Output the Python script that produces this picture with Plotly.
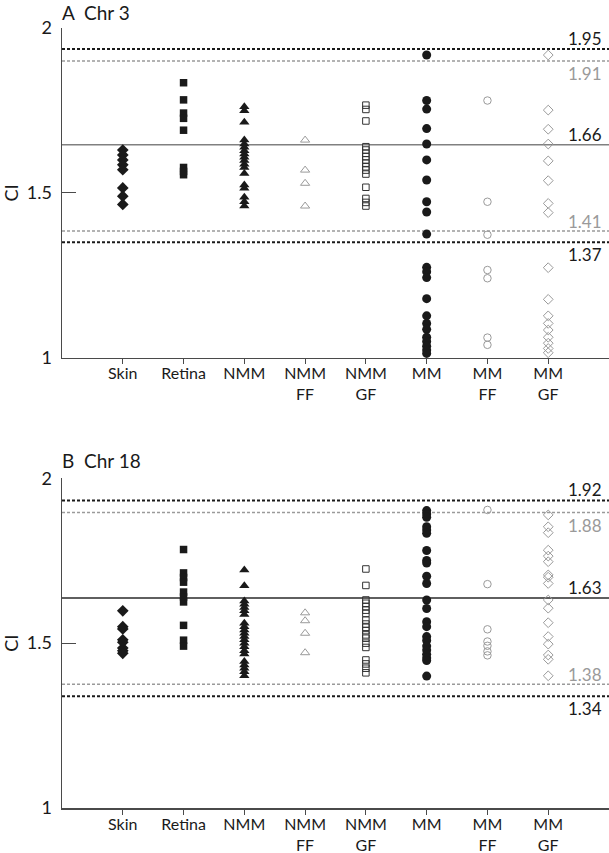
import plotly.graph_objects as go

# ---------------- data ----------------
categories = ["Skin", "Retina", "NMM", "NMM<br>FF", "NMM<br>GF", "MM", "MM<br>FF", "MM<br>GF"]

# Panel A: Chr 3
skin_a = [1.63, 1.615, 1.60, 1.585, 1.57, 1.515, 1.49, 1.465]
retina_a = [1.834, 1.782, 1.742, 1.726, 1.69, 1.577, 1.565, 1.555]
nmm_a = [1.761, 1.749, 1.714, 1.66, 1.648, 1.638, 1.628, 1.618, 1.608, 1.598,
         1.587, 1.577, 1.559, 1.524, 1.514, 1.487, 1.473, 1.46]
nmmff_a = [1.66, 1.569, 1.529, 1.46]
nmmgf_a = [1.766, 1.753, 1.718, 1.64, 1.63, 1.62, 1.61, 1.60, 1.59, 1.579,
           1.569, 1.557, 1.517, 1.483, 1.471, 1.46]
mm_a = [1.918, 1.78, 1.754, 1.695, 1.648, 1.60, 1.539, 1.473, 1.442, 1.375,
        1.274, 1.261, 1.243, 1.179, 1.127, 1.104, 1.086, 1.062, 1.049, 1.035,
        1.023, 1.013]
mmff_a = [1.78, 1.473, 1.373, 1.266, 1.241, 1.061, 1.039]
mmgf_a = [1.918, 1.751, 1.693, 1.648, 1.597, 1.537, 1.468, 1.44, 1.273, 1.177,
          1.127, 1.104, 1.084, 1.062, 1.044, 1.028, 1.015]
ref_lines_a = [1.936, 1.90, 1.646, 1.384, 1.35]
ref_labels_a = ["1.95", "1.91", "1.66", "1.41", "1.37"]

# Panel B: Chr 18
skin_b = [1.598, 1.55, 1.543, 1.51, 1.503, 1.485, 1.477, 1.469]
retina_b = [1.784, 1.713, 1.699, 1.685, 1.655, 1.64, 1.625, 1.554, 1.509, 1.491]
nmm_b = [1.722, 1.674, 1.628, 1.618, 1.608, 1.598, 1.587, 1.56, 1.55, 1.54,
         1.53, 1.52, 1.51, 1.50, 1.489, 1.477, 1.467, 1.444, 1.434, 1.424,
         1.413, 1.401]
nmmff_b = [1.592, 1.568, 1.53, 1.471]
nmmgf_b = [1.725, 1.675, 1.631, 1.621, 1.611, 1.60, 1.59, 1.57, 1.558, 1.548,
           1.538, 1.525, 1.515, 1.50, 1.487, 1.449, 1.437, 1.424, 1.41]
mm_b = [1.902, 1.892, 1.882, 1.853, 1.843, 1.833, 1.781, 1.751, 1.743, 1.703,
        1.681, 1.631, 1.605, 1.565, 1.55, 1.52, 1.508, 1.491, 1.479, 1.466,
        1.455, 1.447, 1.40]
mmff_b = [1.904, 1.679, 1.542, 1.505, 1.492, 1.475, 1.463]
mmgf_b = [1.889, 1.853, 1.835, 1.782, 1.764, 1.747, 1.707, 1.70, 1.681, 1.631,
          1.606, 1.562, 1.52, 1.497, 1.464, 1.451, 1.401]
ref_lines_b = [1.933, 1.896, 1.637, 1.375, 1.339]
ref_labels_b = ["1.92", "1.88", "1.63", "1.38", "1.34"]

panel_titles = ["A  Chr 3", "B  Chr 18"]
ytick_vals = [1, 1.5, 2]
ytick_text = ["1", "1.5", "2"]

# ---------------- styles ----------------
FONT = "Lato, 'Open Sans', sans-serif"
BLACK = "#1a1a1a"
GRAY = "#9a9a9a"
AXIS = "#4a4a4a"

styles = [
    dict(symbol="diamond", size=9, color=BLACK, line=dict(width=0)),
    dict(symbol="square", size=7.5, color=BLACK, line=dict(width=0)),
    dict(symbol="triangle-up", size=9, color=BLACK, line=dict(width=0)),
    dict(symbol="triangle-up-open", size=8, color=GRAY, line=dict(width=1, color=GRAY)),
    dict(symbol="square-open", size=6.5, color="#333333", line=dict(width=1, color="#333333")),
    dict(symbol="circle", size=9, color=BLACK, line=dict(width=0)),
    dict(symbol="circle-open", size=7.5, color=GRAY, line=dict(width=1, color=GRAY)),
    dict(symbol="diamond-open", size=7.5, color=GRAY, line=dict(width=1, color=GRAY)),
]

series_a = [skin_a, retina_a, nmm_a, nmmff_a, nmmgf_a, mm_a, mmff_a, mmgf_a]
series_b = [skin_b, retina_b, nmm_b, nmmff_b, nmmgf_b, mm_b, mmff_b, mmgf_b]

fig = go.Figure()

W, H = 609, 853
x_dom = [62 / W, 1.0]
y_dom_a = [(H - 357.7) / H, (H - 28) / H]
y_dom_b = [(H - 808) / H, (H - 478.3) / H]

for p, series in enumerate([series_a, series_b]):
    xa = "x" if p == 0 else "x2"
    ya = "y" if p == 0 else "y2"
    for i, vals in enumerate(series):
        fig.add_trace(go.Scatter(
            x=[i + 1] * len(vals), y=vals, mode="markers",
            marker=styles[i], xaxis=xa, yaxis=ya, showlegend=False,
            hoverinfo="skip", cliponaxis=False))

# reference lines + labels
line_styles = [
    dict(color=BLACK, width=2, dash="3px,2px"),
    dict(color=GRAY, width=1.5, dash="3px,2px"),
    None,
    dict(color=GRAY, width=1.5, dash="3px,2px"),
    dict(color=BLACK, width=2, dash="3px,2px"),
]
label_colors = [BLACK, GRAY, BLACK, GRAY, BLACK]
label_shift = [11, -13, 10, 10, -12]

shapes = []
annotations = []
for p, (lines, labels) in enumerate([(ref_lines_a, ref_labels_a), (ref_lines_b, ref_labels_b)]):
    yref = "y" if p == 0 else "y2"
    for k, (v, lab) in enumerate(zip(lines, labels)):
        ls = line_styles[k]
        if ls is None:
            ls = dict(color="#808080" if p == 0 else "#2a2a2a", width=1.6)
        shapes.append(dict(type="line", xref="paper", yref=yref,
                           x0=x_dom[0], x1=1, y0=v, y1=v, line=ls, layer="below"))
        annotations.append(dict(xref="paper", yref=yref, x=0.992, y=v,
                                text=lab, showarrow=False, xanchor="right",
                                yanchor="middle", yshift=label_shift[k],
                                font=dict(family=FONT, size=17, color=label_colors[k])))
    # panel title
    annotations.append(dict(xref="paper", yref="paper", x=x_dom[0],
                            y=(H - (12 if p == 0 else 460)) / H,
                            text=panel_titles[p], showarrow=False,
                            xanchor="left", yanchor="middle", xshift=-2,
                            font=dict(family=FONT, size=19, color=BLACK)))

def xaxis_cfg(anchor):
    return dict(domain=x_dom, range=[0, 9], anchor=anchor, automargin=False,
                tickmode="array", tickvals=list(range(1, 9)), ticktext=categories,
                ticks="outside", ticklen=5, tickwidth=1.2, tickcolor=AXIS,
                showline=True, linecolor=AXIS, linewidth=1.5,
                showgrid=False, zeroline=False, ticklabelstandoff=-4,
                tickfont=dict(family=FONT, size=16, color=BLACK))

def yaxis_cfg(domain, anchor):
    return dict(domain=domain, range=[1, 2], anchor=anchor, automargin=False,
                tickmode="array", tickvals=ytick_vals, ticktext=ytick_text,
                ticks="inside", ticklen=14, tickwidth=1.2, tickcolor=AXIS,
                showline=True, linecolor=AXIS, linewidth=1.5,
                showgrid=False, zeroline=False, ticklabelstandoff=5,
                tickfont=dict(family=FONT, size=18, color=BLACK),
                title=dict(text="CI", standoff=10,
                           font=dict(family=FONT, size=18, color=BLACK)))

fig.update_layout(
    width=W, height=H,
    margin=dict(l=0, r=0, t=0, b=0, autoexpand=False),
    paper_bgcolor="white", plot_bgcolor="white",
    xaxis=xaxis_cfg("y"), yaxis=yaxis_cfg(y_dom_a, "x"),
    xaxis2=xaxis_cfg("y2"), yaxis2=yaxis_cfg(y_dom_b, "x2"),
    shapes=shapes, annotations=annotations,
)

fig.write_html(
    "out.html",
    config={"displayModeBar": False, "staticPlot": True},
    post_script="document.body.style.margin='0px';document.body.style.overflow='hidden';",
)
